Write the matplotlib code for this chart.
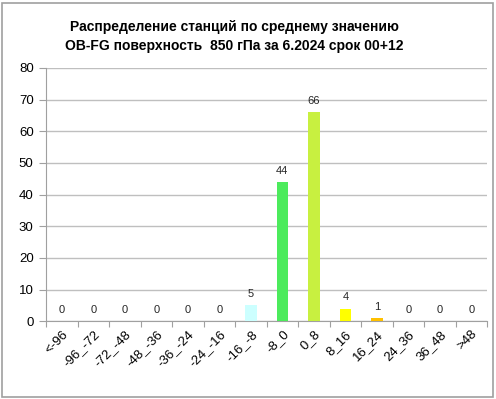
import matplotlib
matplotlib.use("Agg")
import matplotlib.pyplot as plt
from matplotlib.patches import Rectangle
import numpy as np

categories = ["<-96", "-96_-72", "-72_-48", "-48_-36", "-36_-24", "-24_-16", "-16_-8",
              "-8_0", "0_8", "8_16", "16_24", "24_36", "36_48", ">48"]
counts = [0, 0, 0, 0, 0, 0, 5, 44, 66, 4, 1, 0, 0, 0]
bar_colors = ["#C0C0C0", "#C0C0C0", "#C0C0C0", "#C0C0C0", "#C0C0C0", "#C0C0C0", "#CCFFFF",
              "#4CEB5C", "#C8F040", "#FFFF00", "#FFC000", "#C0C0C0", "#C0C0C0", "#C0C0C0"]
title = "Распределение станций по среднему значению\nOB-FG поверхность  850 гПа за 6.2024 срок 00+12"

plt.rcParams['font.family'] = ['Liberation Sans', 'DejaVu Sans']

fig = plt.figure(figsize=(4.96, 3.99), dpi=100)
ax = fig.add_axes([0.093, 0.195, 0.889, 0.635])

x = np.arange(len(categories))
ax.bar(x, counts, width=0.37, color=bar_colors, zorder=3)
for xi, v in zip(x, counts):
    ax.text(xi, v + 2.0, str(v), ha='center', va='bottom', fontsize=8, color='#262626')

ax.set_xlim(-0.5, len(categories) - 0.5)
ax.set_ylim(0, 80)
ax.set_yticks(range(0, 81, 10))
ax.yaxis.grid(True, color='#BFBFBF', linewidth=1.0, zorder=0)
ax.set_axisbelow(True)

ax.set_xticks(np.arange(len(categories) + 1) - 0.5)
ax.set_xticklabels([])
ax.set_xticks(x, minor=True)
ax.set_xticklabels(categories, minor=True, rotation=45, ha='right', rotation_mode='anchor',
                   fontsize=9.5)
ax.tick_params(axis='x', which='minor', length=0, pad=5)
ax.tick_params(axis='x', which='major', length=4, color='#A0A0A0')
ax.tick_params(axis='y', length=5, color='#A0A0A0', labelsize=9.5, pad=4)

for s in ['top', 'right']:
    ax.spines[s].set_visible(False)
ax.spines['left'].set_color('#A0A0A0')
ax.spines['bottom'].set_color('#A0A0A0')

fig.text(0.472, 0.908, title, ha='center', va='center', fontsize=10, fontweight='bold',
         linespacing=1.5)

fig.patches.append(Rectangle((0.004, 0.006), 0.99, 0.987, transform=fig.transFigure,
                             fill=False, edgecolor='#A0A0A0', linewidth=1.2))

plt.savefig('out.png', dpi=100)
plt.close()
